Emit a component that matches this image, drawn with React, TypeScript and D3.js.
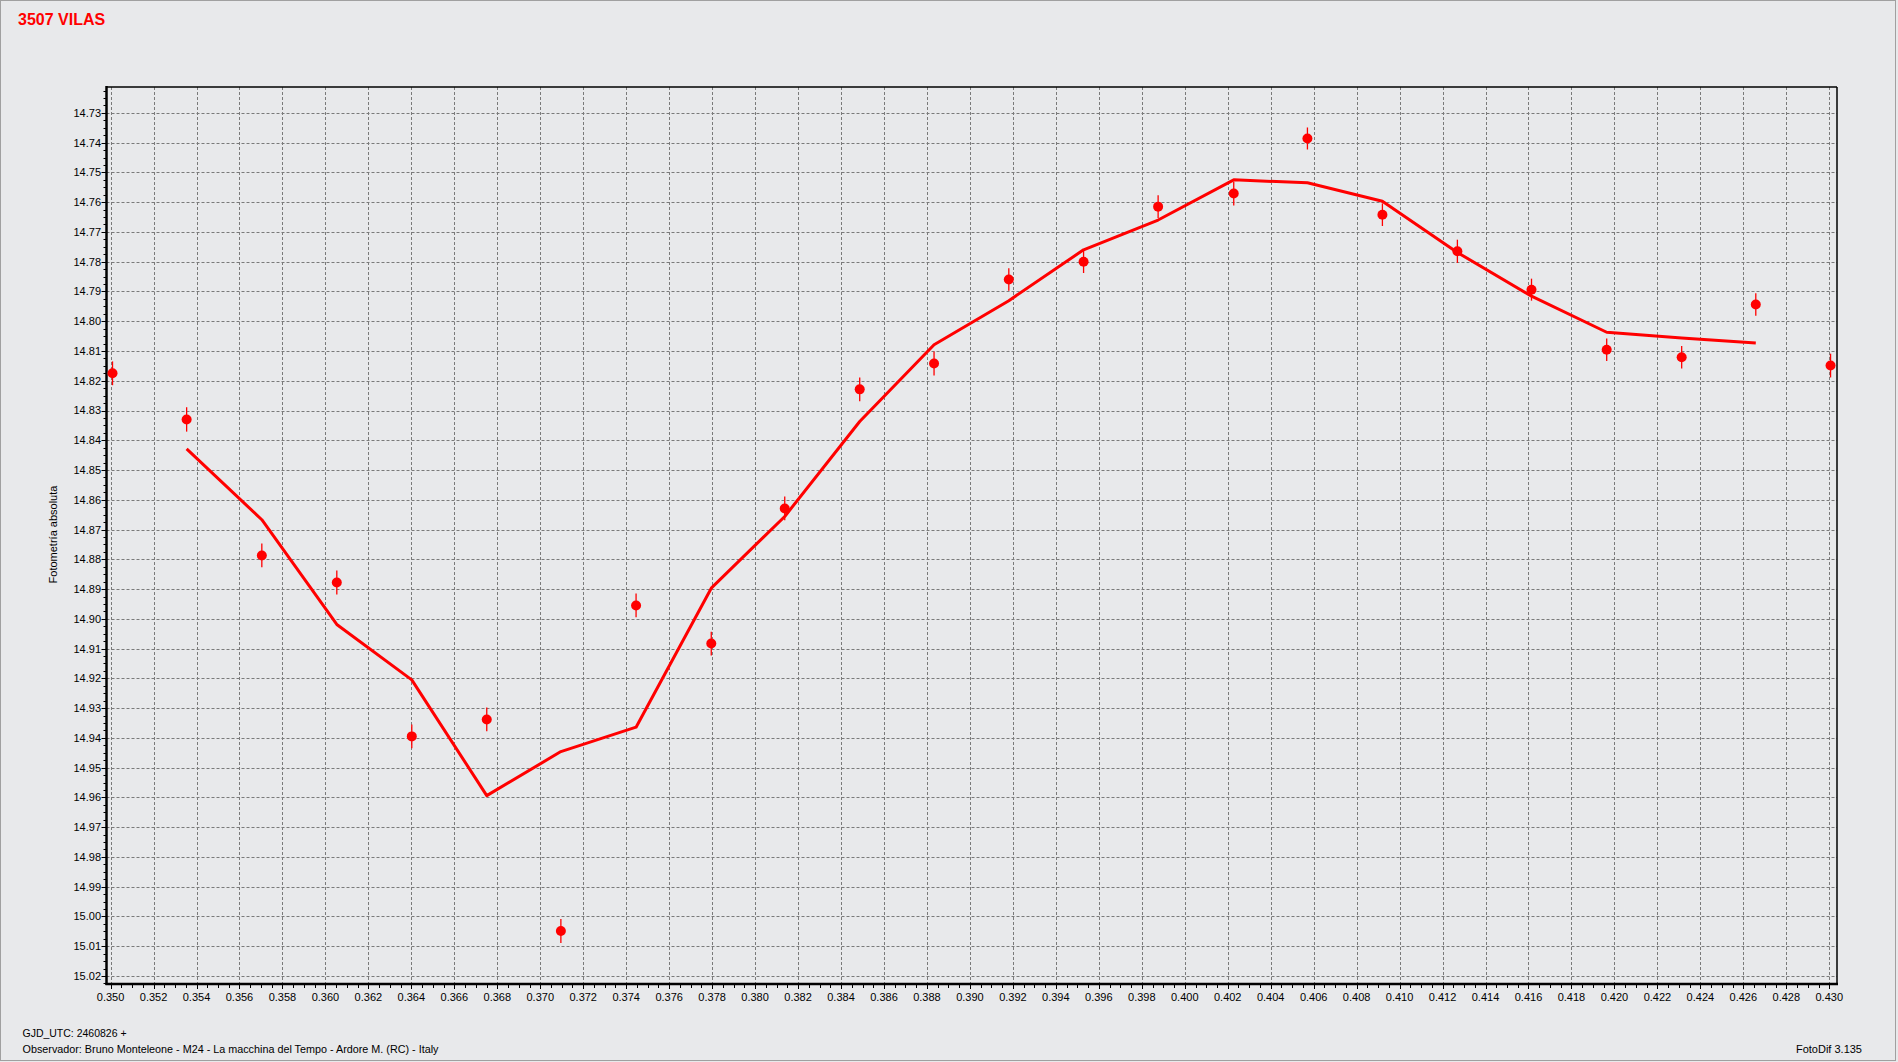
import React from "react";
import * as d3 from "d3";

const W = 1898;
const H = 1062;

const title = "3507 VILAS";
const yAxisLabel = "Fotometría absoluta";
const footer1 = "GJD_UTC: 2460826 +";
const footer2 = "Observador: Bruno Monteleone - M24 - La macchina del Tempo - Ardore M. (RC) - Italy";
const footerRight = "FotoDif 3.135";

// Observation times (GJD fraction)
const obsX = [0.35009, 0.35354, 0.35704, 0.36053, 0.36402, 0.36751, 0.37096, 0.37446, 0.37796, 0.38138, 0.38487, 0.38833, 0.39181, 0.39529, 0.39876, 0.40228, 0.40571, 0.4092, 0.41269, 0.41614, 0.41964, 0.42313, 0.42658, 0.43006];
// Observed magnitudes
const obsMag = [14.8175, 14.833, 14.8787, 14.8878, 14.9395, 14.9338, 15.0049, 14.8955, 14.9083, 14.8629, 14.8229, 14.8142, 14.786, 14.78, 14.7615, 14.7571, 14.7386, 14.7642, 14.7765, 14.7894, 14.8096, 14.8121, 14.7944, 14.8149];
// Error bar half-lengths (mag)
const obsErr = [0.004, 0.0041, 0.004, 0.004, 0.004, 0.004, 0.004, 0.004, 0.004, 0.004, 0.004, 0.004, 0.0038, 0.0038, 0.0038, 0.004, 0.0037, 0.0038, 0.0039, 0.0037, 0.0038, 0.0038, 0.0038, 0.004];
// Smoothed curve (starts at 2nd observation, ends at 23rd)
const fitX = [0.35354, 0.35704, 0.36053, 0.36402, 0.36751, 0.37096, 0.37446, 0.37796, 0.38138, 0.38487, 0.38833, 0.39181, 0.39529, 0.39876, 0.40228, 0.40571, 0.4092, 0.41269, 0.41614, 0.41964, 0.42313, 0.42658];
const fitMag = [14.8429, 14.8667, 14.9019, 14.9205, 14.9594, 14.9446, 14.9364, 14.8897, 14.8656, 14.8337, 14.8079, 14.7931, 14.776, 14.766, 14.7525, 14.7535, 14.7597, 14.7769, 14.7916, 14.8037, 14.8056, 14.8073];

// Tick values
const xTicks = d3.range(0, 41).map((i) => +(0.35 + i * 0.002).toFixed(3));
const yTicks = d3.range(0, 30).map((i) => +(14.73 + i * 0.01).toFixed(2));

const LEFT = 106.5;
const RIGHT = 1837;
const TOP = 87;
const BOTTOM = 984;

export default function App() {
  const x = d3.scaleLinear().domain([0.34981, 0.43036]).range([LEFT, RIGHT]);
  const y = d3.scaleLinear().domain([14.7213, 15.0227]).range([TOP, BOTTOM]);

  const xMinor = d3.range(0, 162).map((i) => 0.3495 + i * 0.0005).filter((v) => x(v) >= LEFT && x(v) <= RIGHT);
  const yMinor = d3.range(0, 125).map((i) => 14.72 + i * 0.0025).filter((v) => y(v) >= TOP && y(v) <= BOTTOM);

  const line = d3
    .line<number>()
    .x((_, i) => x(fitX[i]))
    .y((d) => y(d));

  const font = "'Liberation Sans', Arial, sans-serif";
  const grid = "#7a7a7a";

  return (
    <svg
      width={W}
      height={H}
      style={{ position: "absolute", left: 0, top: 0, display: "block" }}
      fontFamily={font}
    >
      <rect x={0} y={0} width={W} height={H} fill="#e8e9eb" />
      <rect x={0.5} y={0.5} width={W - 3} height={H - 2} fill="none" stroke="#a0a0a0" strokeWidth={1} />

      <text x={18} y={25} fill="#ff0000" fontSize={16} fontWeight="bold">
        {title}
      </text>

      {/* grid */}
      {xTicks.map((t) => (
        <line key={"gx" + t} x1={Math.round(x(t)) + 0.5} x2={Math.round(x(t)) + 0.5} y1={TOP} y2={BOTTOM} stroke={grid} strokeDasharray="3,2" strokeWidth={1} />
      ))}
      {yTicks.map((t) => (
        <line key={"gy" + t} x1={LEFT} x2={RIGHT} y1={Math.round(y(t)) + 0.5} y2={Math.round(y(t)) + 0.5} stroke={grid} strokeDasharray="3,2" strokeWidth={1} />
      ))}

      {/* frame */}
      <line x1={LEFT} x2={RIGHT} y1={TOP} y2={TOP} stroke="#000" strokeWidth={1.5} />
      <line x1={RIGHT} x2={RIGHT} y1={TOP} y2={BOTTOM} stroke="#000" strokeWidth={1.5} />
      <line x1={LEFT} x2={LEFT} y1={TOP - 1} y2={BOTTOM + 1} stroke="#000" strokeWidth={2.5} />
      <line x1={LEFT - 1} x2={RIGHT + 1} y1={BOTTOM} y2={BOTTOM} stroke="#000" strokeWidth={2.5} />

      {/* x ticks */}
      {xMinor.map((t, i) => (
        <line key={"xm" + i} x1={Math.round(x(t)) + 0.5} x2={Math.round(x(t)) + 0.5} y1={BOTTOM} y2={BOTTOM + 4} stroke="#000" strokeWidth={1} />
      ))}
      {xTicks.map((t) => (
        <g key={"xt" + t}>
          <line x1={Math.round(x(t)) + 0.5} x2={Math.round(x(t)) + 0.5} y1={BOTTOM} y2={BOTTOM + 5} stroke="#000" strokeWidth={1} />
          <text x={x(t)} y={1001} fontSize={11} textAnchor="middle" fill="#000">
            {t.toFixed(3)}
          </text>
        </g>
      ))}

      {/* y ticks */}
      {yMinor.map((t, i) => (
        <line key={"ym" + i} x1={LEFT - 3} x2={LEFT} y1={Math.round(y(t)) + 0.5} y2={Math.round(y(t)) + 0.5} stroke="#000" strokeWidth={1} />
      ))}
      {yTicks.map((t) => (
        <g key={"yt" + t}>
          <line x1={LEFT - 5} x2={LEFT} y1={Math.round(y(t)) + 0.5} y2={Math.round(y(t)) + 0.5} stroke="#000" strokeWidth={1} />
          <text x={101} y={y(t)} dy="0.36em" fontSize={11} textAnchor="end" fill="#000">
            {t.toFixed(2)}
          </text>
        </g>
      ))}

      <text transform="translate(57,534.5) rotate(-90)" fontSize={11} textAnchor="middle" fill="#000">
        {yAxisLabel}
      </text>

      {/* fit line */}
      <path d={line(fitMag) || ""} fill="none" stroke="#ff0000" strokeWidth={3} strokeLinejoin="round" />

      {/* observations */}
      {obsX.map((vx, i) => (
        <g key={"p" + i}>
          <line x1={x(vx)} x2={x(vx)} y1={y(obsMag[i] - obsErr[i])} y2={y(obsMag[i] + obsErr[i])} stroke="#ff0000" strokeWidth={1.3} />
          <circle cx={x(vx)} cy={y(obsMag[i])} r={5} fill="#ff0000" />
        </g>
      ))}

      <text x={22.5} y={1037} fontSize={11} fill="#000" textLength={104} lengthAdjust="spacingAndGlyphs">
        {footer1}
      </text>
      <text x={22.5} y={1053} fontSize={11} fill="#000" textLength={416} lengthAdjust="spacingAndGlyphs">
        {footer2}
      </text>
      <text x={1862} y={1053} fontSize={11} textAnchor="end" fill="#000">
        {footerRight}
      </text>
    </svg>
  );
}
